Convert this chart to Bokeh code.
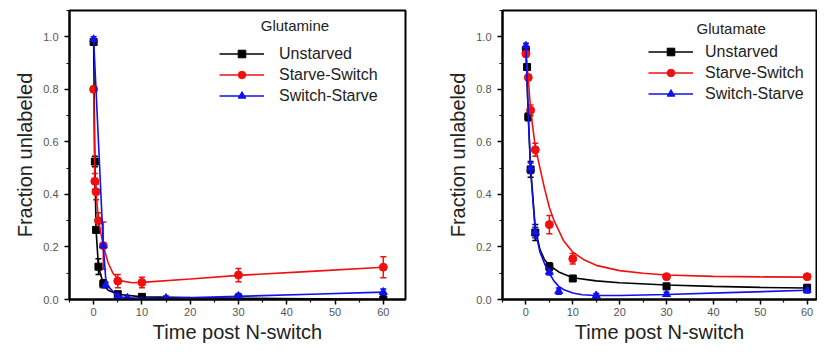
import math
from bokeh.plotting import figure
from bokeh.layouts import row
from bokeh.models import (ColumnDataSource, Whisker, TeeHead, Legend, LegendItem,
                          Label, FixedTicker, PrintfTickFormatter)
from bokeh.embed import file_html
from bokeh.resources import INLINE

# ---------------- Glutamine (left) ----------------
gln_unstarved_t = [0, 0.25, 0.5, 1, 2, 5, 10, 30, 60]
gln_unstarved_v = [0.98, 0.525, 0.265, 0.125, 0.06, 0.02, 0.01, 0.005, 0.0]
gln_unstarved_e = [0.01, 0.02, 0.01, 0.03, 0.015, 0.01, 0.005, 0.004, 0.003]
gln_unstarved_ct = [0, 0.25, 0.5, 1, 2, 3, 5, 10, 20, 30, 45, 60]
gln_unstarved_cv = [0.98, 0.525, 0.265, 0.125, 0.06, 0.035, 0.02, 0.01, 0.007, 0.005, 0.003, 0.0]

gln_starve_t = [0, 0.25, 0.5, 1, 2, 5, 10, 30, 60]
gln_starve_v = [0.80, 0.45, 0.41, 0.30, 0.205, 0.07, 0.065, 0.093, 0.123]
gln_starve_e = [0.01, 0.03, 0.03, 0.03, 0.09, 0.025, 0.02, 0.025, 0.04]
gln_starve_ct = [0, 0.25, 0.5, 1, 2, 3, 4, 5, 6, 8, 10, 20, 30, 45, 60]
gln_starve_cv = [0.80, 0.45, 0.41, 0.30, 0.205, 0.14, 0.10, 0.08, 0.07, 0.064, 0.065, 0.078, 0.092, 0.107, 0.123]

gln_switch_t = [0, 2, 2.5, 5, 7, 15, 30, 60]
gln_switch_v = [0.99, 0.205, 0.055, 0.012, 0.006, 0.005, 0.013, 0.028]
gln_switch_e = [0.01, 0.01, 0.01, 0.01, 0.008, 0.008, 0.01, 0.012]
gln_switch_ct = [0, 1, 2, 2.5, 3, 5, 7, 10, 15, 30, 45, 60]
gln_switch_cv = [0.99, 0.6, 0.205, 0.08, 0.05, 0.012, 0.006, 0.005, 0.005, 0.012, 0.02, 0.028]

# ---------------- Glutamate (right) ----------------
glu_unstarved_t = [0, 0.25, 0.5, 1, 2, 5, 10, 30, 60]
glu_unstarved_v = [0.95, 0.885, 0.695, 0.495, 0.255, 0.125, 0.08, 0.05, 0.045]
glu_unstarved_e = [0.01, 0.01, 0.015, 0.03, 0.03, 0.015, 0.01, 0.008, 0.008]
glu_unstarved_ct = [0, 0.5, 1, 2, 3, 4, 5, 7, 10, 15, 20, 30, 40, 50, 60]
glu_unstarved_cv = [0.95, 0.70, 0.50, 0.27, 0.19, 0.15, 0.13, 0.105, 0.083, 0.071, 0.064, 0.055, 0.05, 0.046, 0.044]

glu_starve_t = [0, 0.5, 1, 2, 5, 10, 30, 60]
glu_starve_v = [0.935, 0.845, 0.72, 0.57, 0.285, 0.155, 0.087, 0.087]
glu_starve_e = [0.01, 0.01, 0.02, 0.025, 0.035, 0.02, 0.01, 0.01]
glu_starve_ct = [0, 0.5, 1, 2, 3, 4, 5, 6, 8, 10, 12.5, 15, 20, 25, 30, 40, 50, 60]
glu_starve_cv = [0.935, 0.84, 0.72, 0.58, 0.5, 0.42, 0.35, 0.30, 0.225, 0.18, 0.15, 0.13, 0.11, 0.1, 0.093, 0.088, 0.086, 0.085]

glu_switch_t = [0, 1, 2, 5, 7, 15, 30, 60]
glu_switch_v = [0.965, 0.5, 0.255, 0.105, 0.032, 0.015, 0.02, 0.035]
glu_switch_e = [0.01, 0.02, 0.02, 0.012, 0.012, 0.008, 0.008, 0.01]
glu_switch_ct = [0, 0.5, 1, 2, 3, 4, 5, 6, 7, 8, 10, 12, 15, 20, 30, 45, 60]
glu_switch_cv = [0.965, 0.70, 0.49, 0.26, 0.18, 0.135, 0.10, 0.07, 0.05, 0.038, 0.025, 0.018, 0.015, 0.015, 0.019, 0.027, 0.035]

series_names = ["Unstarved", "Starve-Switch", "Switch-Starve"]
series_colors = ["#000000", "#f01010", "#1010f0"]
series_markers = ["square", "circle", "triangle"]
series_sizes = [7, 8, 8]

x_major = [0, 10, 20, 30, 40, 50, 60]
x_minor = [-5, 5, 15, 25, 35, 45, 55, 65]
y_major = [0.0, 0.2, 0.4, 0.6, 0.8, 1.0]
y_minor = [0.1, 0.3, 0.5, 0.7, 0.9, 1.1]

FONT = "Liberation Sans"


def make_panel(title, data, width, mb_left, mb_right, mb_top, mb_bottom, xmax,
               legend_loc, standoff, title_xy):
    p = figure(width=width, height=348, x_range=(-5, xmax), y_range=(0, 1.1),
               output_backend="svg", toolbar_location=None,
               min_border_left=mb_left, min_border_right=mb_right,
               min_border_top=mb_top, min_border_bottom=mb_bottom)
    p.grid.visible = False
    p.outline_line_color = "black"
    p.outline_line_width = 2
    p.background_fill_color = "white"
    p.border_fill_color = "white"

    for ax in (p.xaxis[0], p.yaxis[0]):
        ax.axis_line_width = 2
        ax.major_tick_in = 0
        ax.major_tick_out = 5
        ax.minor_tick_in = 0
        ax.minor_tick_out = 3
        ax.major_tick_line_width = 1.5
        ax.minor_tick_line_width = 1.2
        ax.major_label_text_font = FONT
        ax.major_label_text_font_size = "11px"
        ax.major_label_text_color = "#555555"
        ax.axis_label_text_font = FONT
        ax.axis_label_text_font_style = "normal"
        ax.axis_label_text_color = "#222222"
        ax.axis_label_text_font_size = "20px"

    p.xaxis.ticker = FixedTicker(ticks=x_major, minor_ticks=x_minor)
    p.yaxis.ticker = FixedTicker(ticks=y_major, minor_ticks=y_minor)
    p.yaxis.formatter = PrintfTickFormatter(format="%.1f")
    p.xaxis.major_label_standoff = 3
    p.yaxis.major_label_standoff = 6
    p.xaxis.axis_label = "Time post N-switch"
    p.xaxis.axis_label_standoff = 2
    p.yaxis.axis_label = "Fraction unlabeled"
    p.yaxis.axis_label_standoff = 4

    items = []
    for i, (t, v, e, ct, cv) in enumerate(data):
        col = series_colors[i]
        lr = p.line(ct, cv, line_color=col, line_width=1.6)
        src = ColumnDataSource(dict(t=t, v=v,
                                    lo=[a - b for a, b in zip(v, e)],
                                    hi=[a + b for a, b in zip(v, e)]))
        w = Whisker(source=src, base="t", lower="lo", upper="hi",
                    dimension="height", line_color=col, line_width=1.5,
                    upper_head=TeeHead(size=6, line_color=col, line_width=1.5),
                    lower_head=TeeHead(size=6, line_color=col, line_width=1.5))
        p.add_layout(w)
        sr = p.scatter("t", "v", source=src, marker=series_markers[i],
                       size=series_sizes[i], fill_color=col, line_color=col)
        items.append(LegendItem(label=series_names[i], renderers=[lr, sr]))

    leg = Legend(items=items, location=legend_loc, padding=0, margin=0,
                 spacing=2, glyph_width=45, glyph_height=19, label_height=19,
                 label_standoff=standoff, label_text_font=FONT,
                 label_text_font_size="16px", label_text_color="#222222",
                 border_line_color=None, background_fill_alpha=0)
    p.add_layout(leg)

    p.add_layout(Label(x=title_xy[0], y=title_xy[1], text=title,
                       text_font=FONT, text_font_size="15px",
                       text_color="#222222", text_align="center",
                       text_baseline="middle"))
    return p


left_data = [
    (gln_unstarved_t, gln_unstarved_v, gln_unstarved_e, gln_unstarved_ct, gln_unstarved_cv),
    (gln_starve_t, gln_starve_v, gln_starve_e, gln_starve_ct, gln_starve_cv),
    (gln_switch_t, gln_switch_v, gln_switch_e, gln_switch_ct, gln_switch_cv),
]
right_data = [
    (glu_unstarved_t, glu_unstarved_v, glu_unstarved_e, glu_unstarved_ct, glu_unstarved_cv),
    (glu_starve_t, glu_starve_v, glu_starve_e, glu_starve_ct, glu_starve_cv),
    (glu_switch_t, glu_switch_v, glu_switch_e, glu_switch_ct, glu_switch_cv),
]

p1 = make_panel("Glutamine", left_data, width=418, mb_left=69, mb_right=13,
                mb_top=9, mb_bottom=49, xmax=64.6,
                legend_loc=(150, 194), standoff=15, title_xy=(41.7, 1.043))
p2 = make_panel("Glutamate", right_data, width=399, mb_left=84, mb_right=1,
                mb_top=10, mb_bottom=47, xmax=62.0,
                legend_loc=(146, 196), standoff=12, title_xy=(43.8, 1.033))

layout = row(p1, p2)
open("out.html", "w").write(file_html(layout, INLINE))
